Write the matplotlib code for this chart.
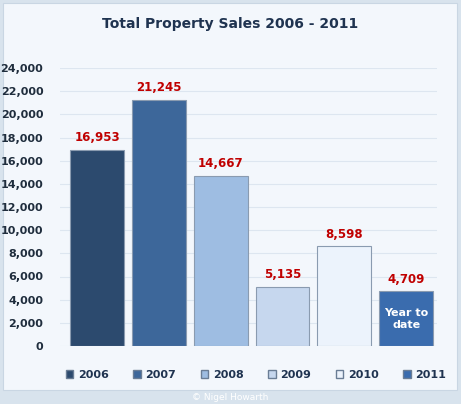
import matplotlib
matplotlib.use("Agg")
import matplotlib.pyplot as plt
from matplotlib.patches import Rectangle, Patch

years = ["2006", "2007", "2008", "2009", "2010", "2011"]
sales = [16953, 21245, 14667, 5135, 8598, 4709]
colors = ["#2c4a6e", "#3d679a", "#9ebde2", "#c6d7ee", "#ecf3fc", "#3a6cae"]
ticks = list(range(0, 24001, 2000))

W, H = 461, 404
fig = plt.figure(figsize=(W/100, H/100), dpi=100)
fig.patch.set_facecolor("#d8e3ed")
fig.patches.append(Rectangle((3/W, 14/H), 454/W, 387/H, transform=fig.transFigure,
                             facecolor="#f3f7fc", edgecolor="#c9d6e3", lw=0.8, zorder=-5))
ax = fig.add_axes([60/W, 1-346/H, 377/W, 278/H])
ax.set_facecolor("none")
x = range(len(years))
ax.bar(x, sales, width=0.87, color=colors, edgecolor="#8a9bb0", linewidth=0.8)
for i, v in enumerate(sales):
    ax.text(i, v + 500, f"{v:,}", ha="center", va="bottom", color="#c00000",
            fontsize=8.5, fontweight="bold")
ax.text(5, sales[5]/2, "Year to\ndate", ha="center", va="center", color="white",
        fontsize=8, fontweight="bold")
ax.set_ylim(0, 24000)
ax.set_xlim(-0.6, 5.5)
ax.set_yticks(ticks)
ax.set_yticklabels([f"{t:,}" for t in ticks], fontsize=8, fontweight="bold", color="#1f2d3d")
ax.set_xticks([])
ax.tick_params(axis="y", length=0, pad=12)
ax.yaxis.grid(True, color="#dde6f0", lw=0.8)
ax.set_axisbelow(True)
for s in ax.spines.values():
    s.set_visible(False)
fig.text(0.5, 1-24/H, "Total Property Sales 2006 - 2011", ha="center", va="center",
         fontsize=10, fontweight="bold", color="#1f3350")
handles = [Patch(facecolor=c, edgecolor="#6a7d95") for c in colors]
fig.legend(handles, years, loc="center", bbox_to_anchor=(0.555, 1-375/H), ncol=6,
           frameon=False, prop={"weight": "bold", "size": 8}, labelcolor="#1f3350",
           handlelength=0.7, handleheight=0.7, columnspacing=2.2, handletextpad=0.4)
fig.text(0.5, 1-397/H, "© Nigel Howarth", ha="center", va="center", fontsize=6.5, color="white")
fig.savefig("out.png", dpi=100, facecolor=fig.get_facecolor())
